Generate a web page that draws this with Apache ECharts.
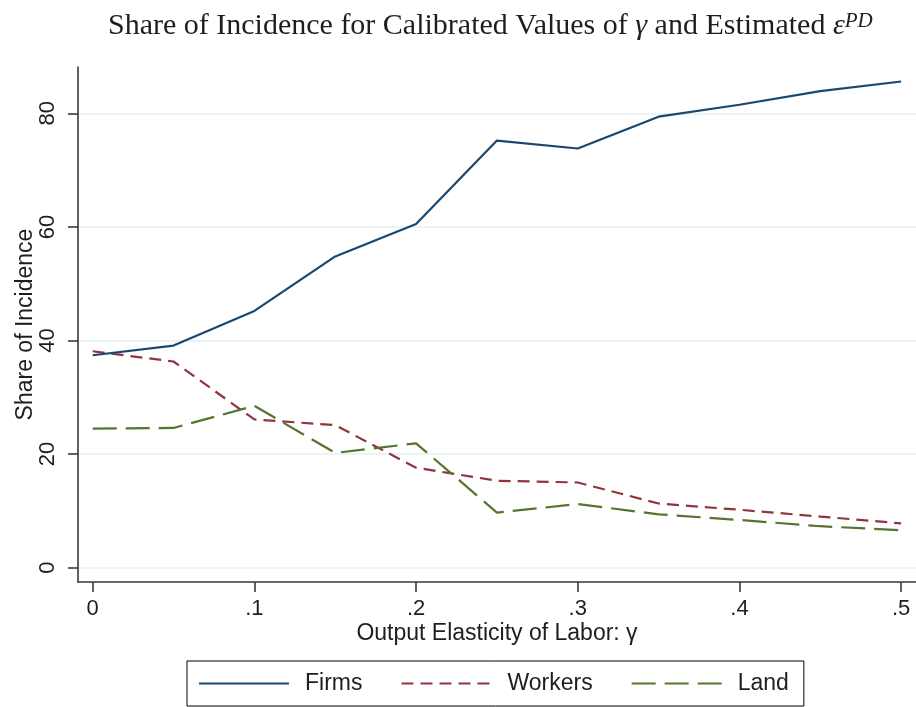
<!DOCTYPE html>
<html>
<head>
<meta charset="utf-8">
<script src="https://cdn.jsdelivr.net/npm/echarts@6/dist/echarts.min.js"></script>
<style>
  html, body { margin: 0; padding: 0; background: #ffffff; }
  #chart { width: 916px; height: 707px; }
</style>
</head>
<body>
<div id="chart"></div>
<script>
// Output elasticity of labor (gamma) and the share of incidence borne by each group
const gammaValues = [0, 0.05, 0.1, 0.15, 0.2, 0.25, 0.3, 0.35, 0.4, 0.45, 0.5];
const firmsShare = [37.4, 39.1, 45.2, 54.8, 60.5, 75.2, 73.8, 79.4, 81.5, 83.9, 85.6];
const workersShare = [38.1, 36.3, 26.1, 25.1, 17.6, 15.3, 15.0, 11.3, 10.2, 9.0, 7.8];
const landShare = [24.5, 24.6, 28.5, 20.2, 21.9, 9.7, 11.2, 9.4, 8.4, 7.3, 6.6];

// Axis ticks
const xTickValues = [0, 0.1, 0.2, 0.3, 0.4, 0.5];
const xTickLabels = ['0', '.1', '.2', '.3', '.4', '.5'];
const yTickValues = [0, 20, 40, 60, 80];
const yTickLabels = ['0', '20', '40', '60', '80'];

const SANS = 'Liberation Sans, Arial, Helvetica, sans-serif';
const SERIF = 'Liberation Serif, Times New Roman, serif';
const AXIS_COLOR = '#3a3a3a';
const TEXT_COLOR = '#1e1e1e';

function pairs(values) {
  return gammaValues.map((g, i) => [g, values[i]]);
}
function lookupLabel(values, labels) {
  return v => {
    for (let i = 0; i < values.length; i++) {
      if (Math.abs(values[i] - v) < 1e-9) return labels[i];
    }
    return '';
  };
}

const chart = echarts.init(document.getElementById('chart'), null, { renderer: 'canvas' });

chart.setOption({
  animation: false,
  backgroundColor: '#ffffff',
  title: {
    text: 'Share of Incidence for Calibrated Values of {i|γ} and Estimated {i|ε}{sup|PD}',
    left: 103,
    top: 6,
    textStyle: {
      fontFamily: SERIF,
      fontSize: 30,
      fontWeight: 'normal',
      color: TEXT_COLOR,
      rich: {
        i: { fontFamily: SERIF, fontSize: 30, fontStyle: 'italic', color: TEXT_COLOR },
        sup: { fontFamily: SERIF, fontSize: 21, fontStyle: 'italic', color: TEXT_COLOR, verticalAlign: 'top' }
      }
    }
  },
  grid: {
    left: 78,
    right: 0,
    top: 67,
    bottom: 125,
    containLabel: false
  },
  legend: {
    left: 187,
    top: 661,
    orient: 'horizontal',
    padding: [11, 15, 11, 11],
    borderColor: '#000000',
    borderWidth: 1,
    itemWidth: 90,
    itemHeight: 14,
    itemGap: 38,
    itemStyle: { opacity: 0 },
    textStyle: {
      fontFamily: SANS,
      fontSize: 23,
      color: TEXT_COLOR,
      padding: [0, 0, 0, 11]
    },
    data: ['Firms', 'Workers', 'Land']
  },
  xAxis: {
    type: 'value',
    min: -0.0091,
    max: 0.5092,
    name: 'Output Elasticity of Labor: γ',
    nameLocation: 'middle',
    nameGap: 40,
    nameMoveOverlap: false,
    nameTextStyle: { fontFamily: SANS, fontSize: 23, color: TEXT_COLOR },
    axisLine: { show: true, onZero: false, lineStyle: { color: AXIS_COLOR, width: 1.6 } },
    axisTick: {
      show: true,
      inside: false,
      length: 10,
      customValues: xTickValues,
      lineStyle: { color: AXIS_COLOR, width: 1.6 }
    },
    axisLabel: {
      show: true,
      customValues: xTickValues,
      formatter: lookupLabel(xTickValues, xTickLabels),
      fontFamily: SANS,
      fontSize: 22,
      color: TEXT_COLOR,
      margin: 16
    },
    splitLine: { show: false }
  },
  yAxis: {
    type: 'value',
    min: -2.52,
    max: 88.15,
    name: 'Share of Incidence',
    nameLocation: 'middle',
    nameGap: 41,
    nameMoveOverlap: false,
    nameRotate: 90,
    nameTextStyle: { fontFamily: SANS, fontSize: 23, color: TEXT_COLOR },
    axisLine: { show: true, onZero: false, lineStyle: { color: AXIS_COLOR, width: 1.6 } },
    axisTick: {
      show: true,
      inside: false,
      length: 10,
      customValues: yTickValues,
      lineStyle: { color: AXIS_COLOR, width: 1.6 }
    },
    axisLabel: {
      show: true,
      customValues: yTickValues,
      formatter: lookupLabel(yTickValues, yTickLabels),
      rotate: 90,
      fontFamily: SANS,
      fontSize: 22,
      color: TEXT_COLOR,
      margin: 19
    },
    splitLine: { show: true, lineStyle: { color: '#e6eff2', width: 1.6 } }
  },
  series: [
    {
      name: 'Firms',
      type: 'line',
      data: pairs(firmsShare),
      symbol: 'none',
      showSymbol: false,
      color: '#1a476f',
      lineStyle: { color: '#1a476f', width: 2.2, type: 'solid' },
      z: 3
    },
    {
      name: 'Workers',
      type: 'line',
      data: pairs(workersShare),
      symbol: 'none',
      showSymbol: false,
      color: '#90353b',
      lineStyle: { color: '#90353b', width: 2.2, type: [12, 7] },
      z: 2
    },
    {
      name: 'Land',
      type: 'line',
      data: pairs(landShare),
      symbol: 'none',
      showSymbol: false,
      color: '#55752f',
      lineStyle: { color: '#55752f', width: 2.2, type: [24, 9] },
      z: 2
    }
  ]
});
</script>
</body>
</html>
